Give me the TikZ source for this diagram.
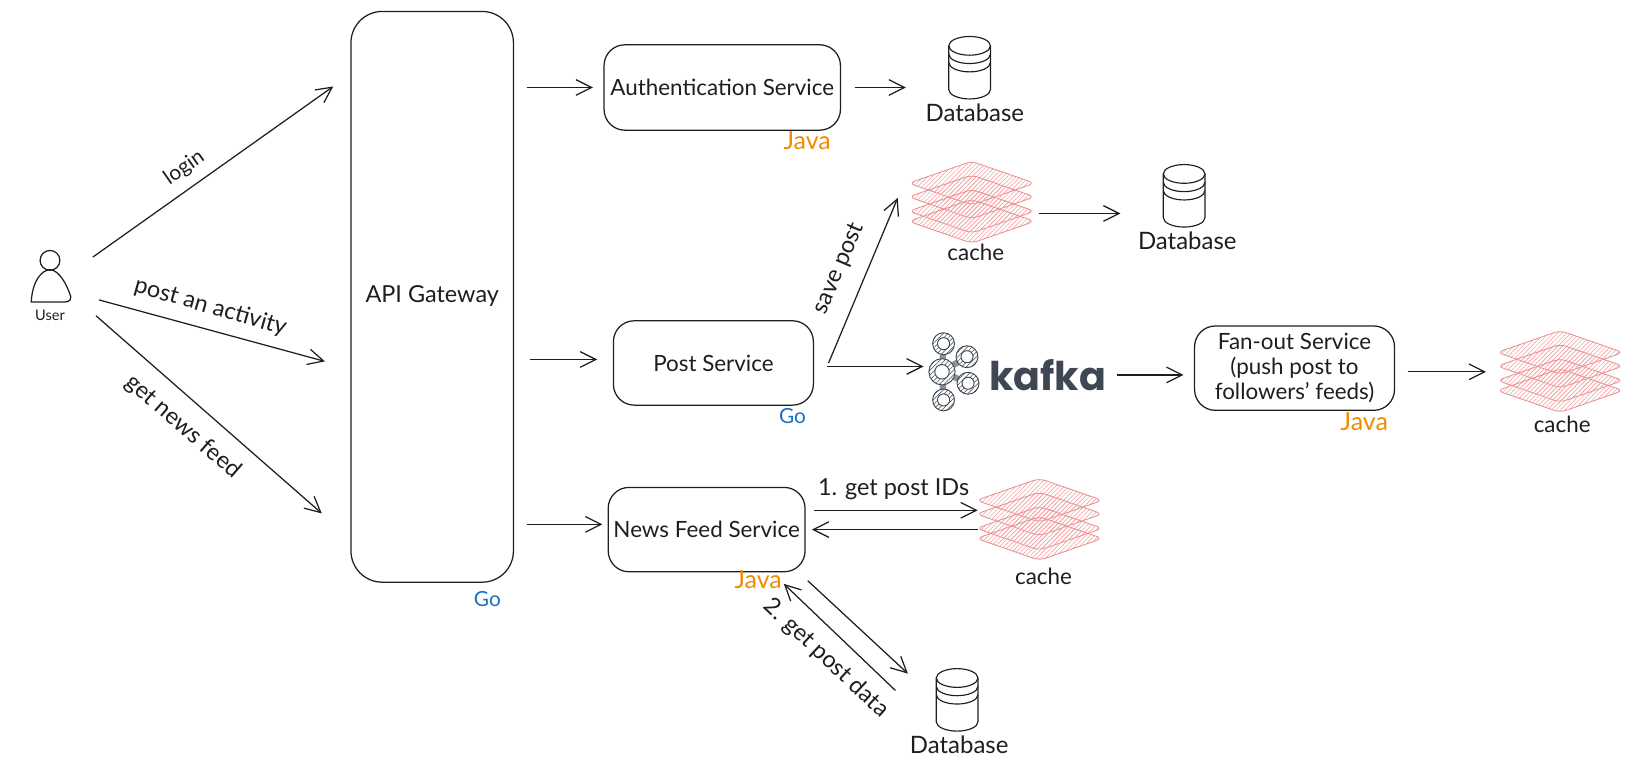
\documentclass[tikz,border=0pt]{standalone}
\usepackage{fontspec}
\setmainfont{Lato}
\newfontfamily\kafkafont{Poppins}
\usetikzlibrary{arrows.meta,patterns.meta}
\definecolor{inkblack}{HTML}{1E1E1E}
\definecolor{goblue}{HTML}{1971C2}
\definecolor{javaorange}{HTML}{F08C00}
\definecolor{cachered}{HTML}{E88F8F}
\definecolor{cachehatch}{HTML}{F4A9A9}
\definecolor{kafkagray}{HTML}{3F4752}
\tikzset{
  every node/.style={font=\fontsize{21.5}{24}\selectfont, text=inkblack},
  box/.style={draw=inkblack, line width=1.2pt, align=center, inner sep=0pt},
  arrow/.style={draw=inkblack, line width=1.2pt, -{Straight Barb[length=15pt,width=15pt]}},
  edgelabel/.style={font=\fontsize{22.5}{26}\selectfont},
  javalabel/.style={font=\fontsize{24}{26}\selectfont, text=javaorange},
  golabel/.style={font=\fontsize{20}{24}\selectfont, text=goblue},
  dblabel/.style={font=\fontsize{23}{26}\selectfont},
  dbnode/.style={minimum width=40pt, minimum height=60pt, inner sep=0pt},
  cachenode/.style={minimum width=118pt, minimum height=76pt, inner sep=0pt},
  layer/.pic={
    \draw [cachered, line width=.8pt, rounded corners=6pt,
      pattern={Lines[angle=45,distance=3pt,line width=.6pt]}, pattern color=cachehatch]
      (-60.5,0) -- (0,-21) -- (60.5,0) -- (0,21) -- cycle;
  },
  cachestack/.pic={
    \pic at (0,-18.6) {layer};
    \pic at (0,-5.5) {layer};
    \pic at (0,8.3) {layer};
    \pic at (0,18) {layer};
  },
  cylinder/.pic={
    \draw [inkblack, line width=1.1pt] (-20,-21) -- (-20,21) arc [start angle=180, end angle=360, x radius=20, y radius=-9] -- (20,-21);
    \draw [inkblack, line width=1.1pt] (0,-21) ellipse (20 and 9);
    \draw [inkblack, line width=1.1pt] (-20,-13) arc [start angle=180, end angle=360, x radius=20, y radius=-9];
    \draw [inkblack, line width=1.1pt] (-20,-5) arc [start angle=180, end angle=360, x radius=20, y radius=-9];
  },
  kafkaring/.pic={
    \draw [kafkagray, line width=.9pt, fill=white, postaction={pattern={Lines[angle=45,distance=3.2pt,line width=.5pt]}, pattern color=kafkagray}] (0,0) circle (10.5);
    \draw [kafkagray, line width=.9pt, fill=white] (0,0) circle (5.8);
  },
  kafkalogo/.pic={
    \draw [kafkagray!60, line width=6pt] (-12,-25) -- (-13.5,2) -- (-12,29);
    \draw [kafkagray!60, line width=6pt] (10.5,-12.5) -- (-13.5,2) -- (11.5,13);
    \pic at (-12,-25) {kafkaring};
    \pic at (10.5,-12.5) {kafkaring};
    \pic at (11.5,13) {kafkaring};
    \pic at (-12,29) {kafkaring};
    \pic [scale=1.2] at (-13.5,2) {kafkaring};
  }
}

\begin{document}
\begin{tikzpicture}[x=1pt,y=-1pt]
\useasboundingbox (0,0) rectangle (1568,750.7);

\node (user) [minimum width=40pt, minimum height=70pt, inner sep=0pt] at (48,275) {};
\draw [inkblack, line width=1.2pt] (48,250) circle (9.5);
\draw [inkblack, line width=1.2pt] (30,290) .. controls (31,270) and (40,259) .. (48,259) .. controls (56,259) and (64,272) .. (68,285) .. controls (68,290) and (64,290) .. (60,290) -- cycle;
\node (userlabel) [font=\fontsize{14}{16}\selectfont] at (48,303) {User};

\node (gateway) [box, rounded corners=30pt, minimum width=156pt, minimum height=548pt] at (415,285) {};
\node (gatewaylabel) [edgelabel] at (415,284) {API Gateway};
\node (gatewaylang) [golabel] at (468,575) {Go};

\node (auth) [box, rounded corners=20pt, minimum width=227pt, minimum height=82pt] at (693.5,84) {Authentication Service};
\node (authlang) [javalabel] at (775,135) {Java};
\node (post) [box, rounded corners=20pt, minimum width=192pt, minimum height=81pt] at (685,348.5) {Post Service};
\node (postlang) [golabel] at (761,399) {Go};
\node (news) [box, rounded corners=20pt, minimum width=189pt, minimum height=81pt] at (678.5,508.5) {News Feed Service};
\node (newslang) [javalabel] at (728,557) {Java};
\node (fanout) [box, rounded corners=20pt, minimum width=192pt, minimum height=81pt] at (1243,353.5) {Fan-out Service\\(push post to\\followers' feeds)};
\node (fanoutlang) [javalabel] at (1310,405) {Java};

\node (dbA) [dbnode] at (931,65) {};
\pic at (dbA) {cylinder};
\node (dbAlabel) [dblabel] at (936,108) {Database};
\node (dbB) [dbnode] at (1137,188) {};
\pic at (dbB) {cylinder};
\node (dbBlabel) [dblabel] at (1140,231) {Database};
\node (dbC) [dbnode] at (919,672) {};
\pic at (dbC) {cylinder};
\node (dbClabel) [dblabel] at (921,715) {Database};

\node (cacheA) [cachenode] at (933,194.5) {};
\pic at (cacheA) {cachestack};
\node (cacheAlabel) at (937,242) {cache};
\node (cacheB) [cachenode] at (1498,357) {};
\pic at (cacheB) {cachestack};
\node (cacheBlabel) at (1500,407) {cache};
\node (cacheC) [cachenode] at (998,499) {};
\pic at (cacheC) {cachestack};
\node (cacheClabel) at (1002,553) {cache};

\node (kafkaicon) [minimum width=56pt, minimum height=76pt, inner sep=0pt] at (918,355) {};
\pic at (kafkaicon) {kafkalogo};
\node (kafka) [minimum width=112pt, inner sep=0pt, text=kafkagray, font=\kafkafont\bfseries\fontsize{38}{40}\selectfont] at (1006,360) {kafka};

\coordinate (loginend) at (320,83);
\coordinate (activityend) at (312,347);
\coordinate (feedend) at (309,493);
\coordinate (savepostend) at (862,190);

\draw [arrow] ([shift={(21,7)}]user.north east) -- (loginend);
\draw [arrow] ([shift={(27,13)}]user.east) -- (activityend);
\draw [arrow] ([shift={(24,-7)}]user.south east) -- (feedend);
\node (loginlabel) [rotate=35, font=\fontsize{20}{24}\selectfont] at (177,161) {login};
\node (activitylabel) [rotate=-16, edgelabel] at (202,295) {post an activity};
\node (feedlabel) [rotate=-41, edgelabel] at (176,410) {get news feed};

\draw [arrow, shorten <=12pt, shorten >=10pt] (gateway.east |- auth) -- (auth.west);
\draw [arrow, shorten <=13pt, shorten >=41pt] (auth.east) -- (auth.east -| dbA.west);
\draw [arrow, shorten <=15pt, shorten >=15pt] (gateway.east |- post.178) -- (post.178);
\draw [arrow, shorten <=12pt, shorten >=5pt] (gateway.east |- news.177) -- (news.177);

\draw [arrow] ([shift={(14,0)}]post.east) -- (savepostend);
\node (savepostlabel) [rotate=67, edgelabel] at (806,258) {save post};
\draw [arrow, shorten <=12pt, shorten >=3pt] (post.-2) -- (post.-2 -| kafkaicon.west);
\draw [arrow, shorten <=5pt, shorten >=41pt] (cacheA.-10) -- (cacheA.-10 -| dbB.west);
\draw [arrow, shorten <=10pt, shorten >=10pt] (kafka.east) -- (kafka.east -| fanout.west);
\draw [arrow, shorten <=12pt, shorten >=12pt] (cacheB.west -| fanout.east) -- (cacheB.west);

\draw [arrow, shorten <=8pt] (news.11) -- (news.11 -| cacheC.west);
\node (postidslabel) [edgelabel] at (858,470) {1. get post IDs};
\draw [arrow, shorten >=6pt] (cacheC.west |- news.east) -- (news.east);
\draw [arrow] ([shift={(2,8)}]news.south east) -- ([shift={(-27,5)}]dbC.north west);
\draw [arrow] ([shift={(-39,-9)}]dbC.west) -- ([shift={(-21,11)}]news.south east);
\node (postdatalabel) [rotate=-43, edgelabel] at (793,632) {2. get post data};
\end{tikzpicture}
\end{document}
